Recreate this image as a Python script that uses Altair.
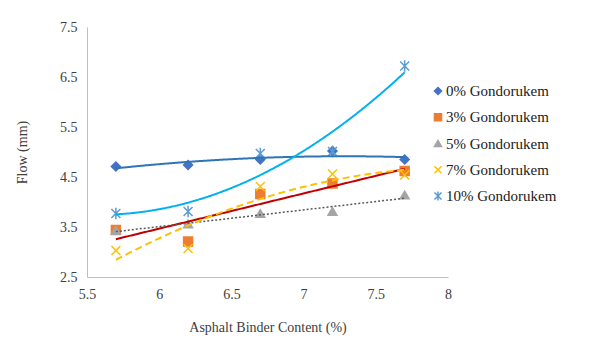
import altair as alt
import pandas as pd

binder = [5.7, 6.2, 6.7, 7.2, 7.7]
series_names = ["0% Gondorukem", "3% Gondorukem", "5% Gondorukem", "7% Gondorukem", "10% Gondorukem"]
g0 = [4.71, 4.74, 4.85, 5.02, 4.85]
g3 = [3.44, 3.21, 4.16, 4.37, 4.62]
g5 = [3.43, 3.56, 3.77, 3.81, 4.14]
g7 = [3.03, 3.07, 4.31, 4.56, 4.54]
g10 = [3.77, 3.81, 4.97, 5.01, 6.72]

marker_colors = ["#4472C4", "#ED7D31", "#A5A5A5", "#FFC000", "#5B9BD5"]
fill_colors = ["#4472C4", "#ED7D31", "#A5A5A5", "transparent", "transparent"]
shapes = ["diamond", "square", "triangle-up",
          "M-1,-1L1,1M-1,1L1,-1",
          "M-1,-1L1,1M-1,1L1,-1M0,-1.3L0,1.3"]

rows = []
for name, vals in zip(series_names, [g0, g3, g5, g7, g10]):
    for xv, yv in zip(binder, vals):
        rows.append({"x": xv, "y": yv, "series": name})
df = pd.DataFrame(rows)
legend_df = pd.DataFrame({"series": series_names})

FONT = "Liberation Serif"
LEG_FONT = "Times New Roman, Liberation Serif, serif"

xenc = alt.X("x:Q", scale=alt.Scale(domain=[5.5, 8]),
             axis=alt.Axis(title="Asphalt Binder Content (%)", values=[5.5, 6, 6.5, 7, 7.5, 8],
                           grid=False, ticks=False, domainColor="#BFBFBF", labelPadding=10,
                           titlePadding=19, labelFlush=False, format="~g"))
yenc = alt.Y("y:Q", scale=alt.Scale(domain=[2.5, 7.5]),
             axis=alt.Axis(title="Flow (mm)", values=[2.5, 3.5, 4.5, 5.5, 6.5, 7.5],
                           grid=False, ticks=False, domainColor="#BFBFBF", labelPadding=10,
                           titlePadding=30, format=".1f"))

color_scale = alt.Scale(domain=series_names, range=marker_colors)
fill_scale = alt.Scale(domain=series_names, range=fill_colors)
shape_scale = alt.Scale(domain=series_names, range=shapes)

trend_specs = [
    ("0% Gondorukem", "poly", 2, "#2E75B6", [1, 0], 2),
    ("3% Gondorukem", "linear", 1, "#C00000", [1, 0], 2),
    ("5% Gondorukem", "linear", 1, "#595959", [2, 2], 1.5),
    ("7% Gondorukem", "poly", 2, "#FFC000", [7, 4], 2),
    ("10% Gondorukem", "poly", 2, "#00B0F0", [1, 0], 2),
]

layers = []
for name, method, order, col, dash, sw in trend_specs:
    reg = alt.Chart(df).transform_filter(alt.datum.series == name)
    if method == "poly":
        reg = reg.transform_regression("x", "y", method="poly", order=order)
    else:
        reg = reg.transform_regression("x", "y", method="linear")
    layers.append(reg.mark_line(color=col, strokeDash=dash, strokeWidth=sw, interpolate="monotone")
                  .encode(x=xenc, y=yenc))

points = alt.Chart(df).mark_point(filled=False, size=80, strokeWidth=1.5, opacity=1).encode(
    x=xenc, y=yenc,
    color=alt.Color("series:N", scale=color_scale, legend=None),
    fill=alt.Fill("series:N", scale=fill_scale, legend=None),
    shape=alt.Shape("series:N", scale=shape_scale, legend=None),
)

main = alt.layer(points, *layers)

leg_y = alt.Y("series:N", scale=alt.Scale(domain=series_names, range=[64, 169], padding=0),
              axis=None)
leg_sym = alt.Chart(legend_df).mark_point(filled=False, size=50, strokeWidth=1.5, opacity=1).encode(
    x=alt.value(351), y=leg_y,
    color=alt.Color("series:N", scale=color_scale, legend=None),
    fill=alt.Fill("series:N", scale=fill_scale, legend=None),
    shape=alt.Shape("series:N", scale=shape_scale, legend=None),
)
leg_txt = alt.Chart(legend_df).mark_text(align="left", baseline="middle", font=LEG_FONT,
                                         fontSize=15, color="#202020").encode(
    x=alt.value(359), y=leg_y, text="series:N",
)
legend_layer = alt.layer(leg_sym, leg_txt)

chart = alt.layer(main, legend_layer).resolve_scale(y="independent").properties(
    width=361, height=250,
    autosize=alt.AutoSizeParams(type="none"),
    padding={"left": 79, "top": 19, "right": 138, "bottom": 62},
).configure(font=FONT).configure_view(stroke=None).configure_axis(
    labelFont=FONT, titleFont=FONT, labelFontSize=14, titleFontSize=14,
    labelColor="#404040", titleColor="#404040", titleFontWeight="normal",
)

chart.save("out.html", embed_options={"renderer": "svg", "actions": False})
